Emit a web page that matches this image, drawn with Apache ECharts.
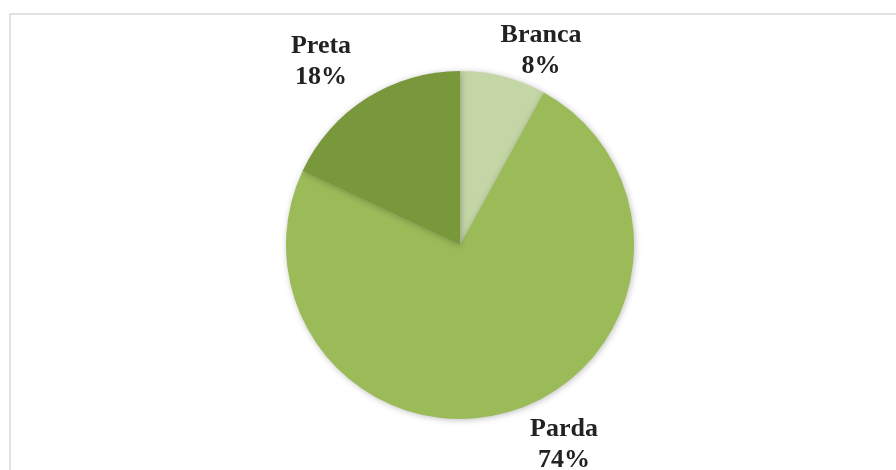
<!DOCTYPE html>
<html>
<head>
<meta charset="utf-8">
<script src="https://cdn.jsdelivr.net/npm/echarts@6/dist/echarts.min.js"></script>
<style>
  html, body { margin: 0; padding: 0; background: #fff; }
  #chart { width: 896px; height: 470px; }
</style>
</head>
<body>
<div id="chart"></div>
<script>
const categories = ['Branca', 'Parda', 'Preta'];
const values = [8, 74, 18];
const colors = ['#c4d6a6', '#9bbb59', '#79973b'];

// where each label sits (center of the two-line text)
const labelPos = [[541, 51], [564, 445], [321, 62]];

const chart = echarts.init(document.getElementById('chart'), null, { renderer: 'canvas' });

const option = {
  animation: false,
  graphic: [{
    type: 'rect',
    shape: { x: 10, y: 14, width: 900, height: 480 },
    style: { fill: 'none', stroke: '#d9d9d9', lineWidth: 1.5 }
  }],
  series: [{
    type: 'pie',
    center: [460, 245],
    radius: 174,
    startAngle: 90,
    clockwise: true,
    itemStyle: {
      shadowBlur: 6,
      shadowColor: 'rgba(0,0,0,0.25)',
      shadowOffsetX: 1,
      shadowOffsetY: 1
    },
    label: {
      show: true,
      position: 'outside',
      formatter: '{b}\n{d}%',
      fontFamily: 'Liberation Serif',
      fontWeight: 'bold',
      fontSize: 26,
      lineHeight: 31,
      color: '#222',
      align: 'center'
    },
    labelLine: { show: false },
    labelLayout: function (params) {
      const p = labelPos[params.dataIndex];
      return { x: p[0], y: p[1], align: 'center', verticalAlign: 'middle' };
    },
    data: categories.map((c, i) => ({
      name: c,
      value: values[i],
      itemStyle: { color: colors[i] }
    }))
  }]
};
chart.setOption(option);
</script>
</body>
</html>
